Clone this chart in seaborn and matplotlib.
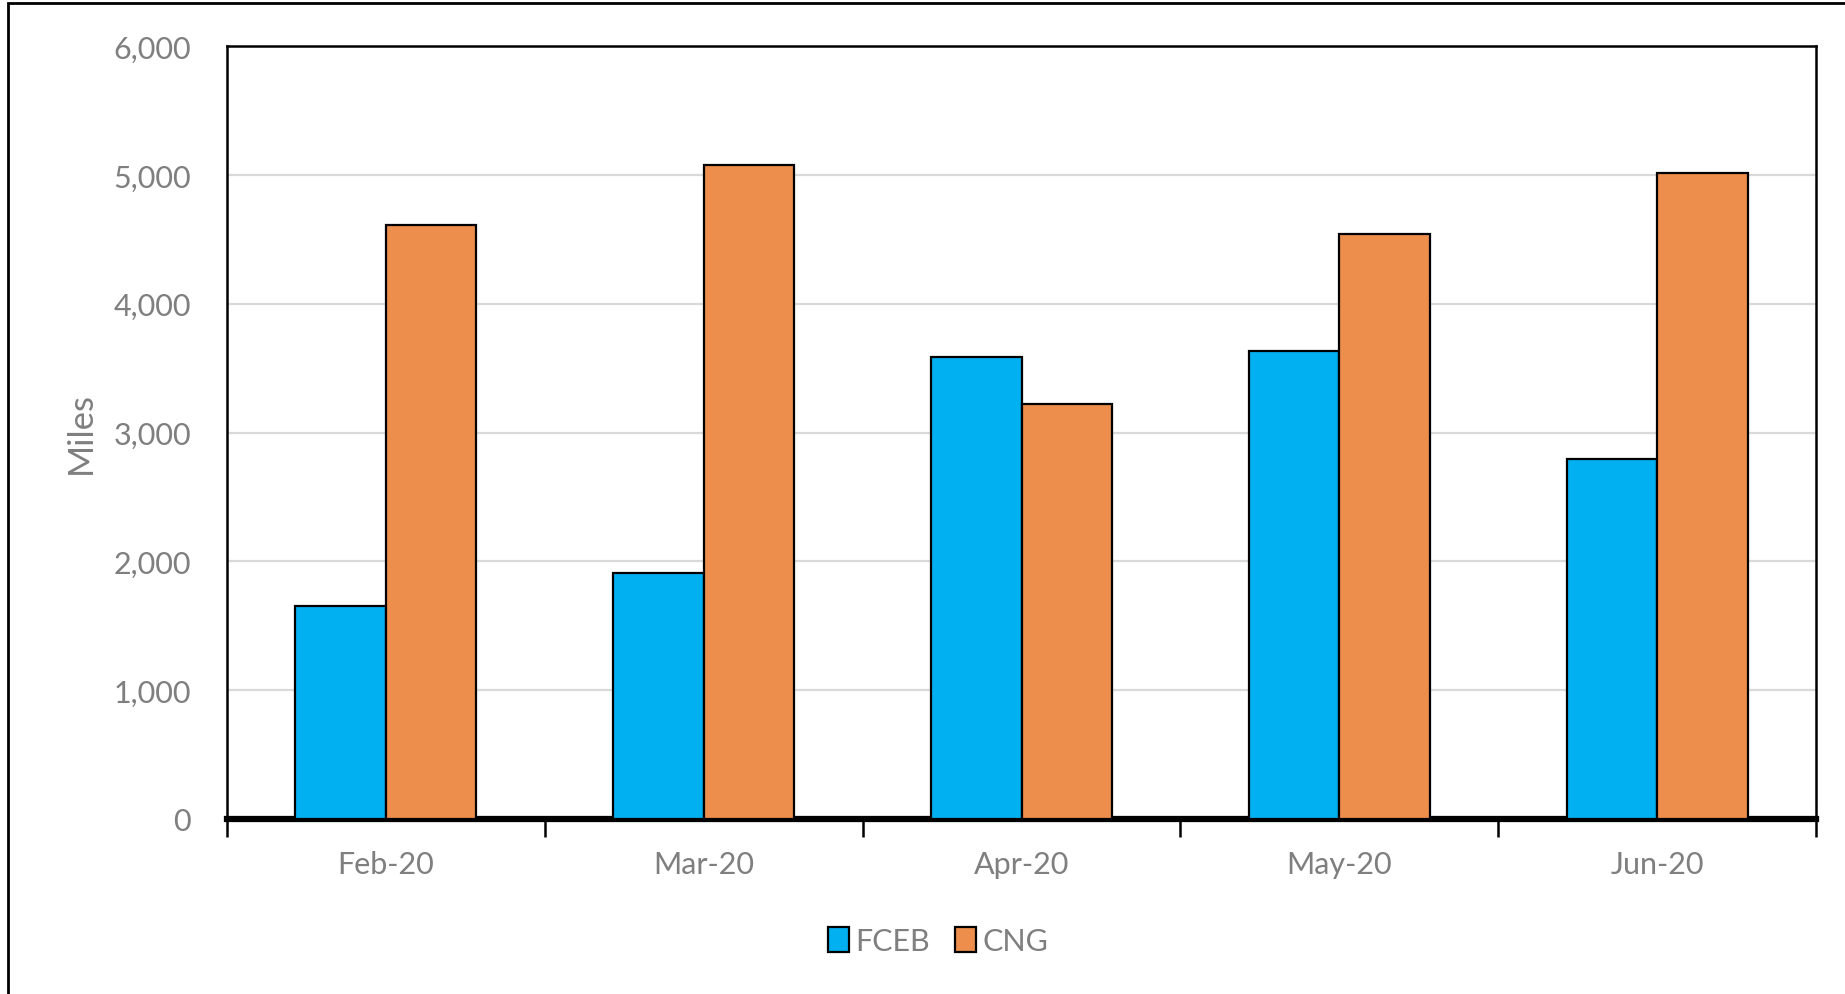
import matplotlib
matplotlib.use("Agg")
import matplotlib.pyplot as plt
from matplotlib.patches import Rectangle
from matplotlib.ticker import FuncFormatter, FixedLocator
import seaborn as sns
import pandas as pd

# ---- data ----
months = ["Feb-20", "Mar-20", "Apr-20", "May-20", "Jun-20"]
fceb = [1653, 1909, 3589, 3635, 2795]
cng = [4612, 5078, 3224, 4539, 5014]
series = ["FCEB", "CNG"]
colors = ["#00B0F0", "#ED8E4C"]

df = pd.DataFrame({
    "Month": months * 2,
    "Miles": fceb + cng,
    "Fuel": ["FCEB"] * len(months) + ["CNG"] * len(months),
})

sns.set_theme(style="white")
plt.rcParams["font.family"] = ["Lato", "DejaVu Sans"]
grey = "#7F7F7F"

fig = plt.figure(figsize=(18.45, 9.95), dpi=100)
ax = fig.add_axes([227 / 1845, 1 - 820 / 995, (1816 - 227) / 1845, (820 - 47) / 995])

sns.barplot(data=df, x="Month", y="Miles", hue="Fuel", hue_order=series,
            palette=colors, width=0.57, edgecolor="black", linewidth=1.6,
            saturation=1, ax=ax, zorder=3)

ax.set_ylim(0, 6000)
ax.set_xlim(-0.5, len(months) - 0.5)
ax.yaxis.set_major_locator(FixedLocator(range(0, 6001, 1000)))
ax.yaxis.set_major_formatter(FuncFormatter(lambda v, p: f"{int(v):,}"))
ax.grid(axis="y", color="#D9D9D9", linewidth=1.6, zorder=0)
ax.set_axisbelow(True)

for s in ["top", "left", "right"]:
    ax.spines[s].set_color("black")
    ax.spines[s].set_linewidth(1.8)
ax.spines["bottom"].set_color("black")
ax.spines["bottom"].set_linewidth(4.5)

ax.tick_params(axis="y", length=0, labelsize=22, labelcolor=grey, pad=26)
ax.tick_params(axis="x", which="major", length=0, labelsize=22, labelcolor=grey, pad=22)
ax.set_xticks([i + 0.5 for i in range(-1, len(months))], minor=True)
ax.tick_params(axis="x", which="minor", bottom=True, length=13, width=1.8,
               color="black", direction="out")

ax.set_xlabel("")
ax.set_ylabel("Miles", fontsize=25, color=grey, labelpad=12)

handles, labels = ax.get_legend_handles_labels()
ax.legend(handles, labels, loc="center", bbox_to_anchor=(938 / 1845, 1 - 942 / 995),
          bbox_transform=fig.transFigure, ncol=2, frameon=False, fontsize=22,
          labelcolor=grey, handlelength=0.7, handleheight=0.9, handletextpad=0.2,
          columnspacing=0.8)

# outer chart border (runs off the right and bottom edges)
fig.patches.append(Rectangle((8 / 1845, -0.05), 1.2, 1 - 4 / 995 + 0.05,
                             transform=fig.transFigure, fill=False,
                             edgecolor="black", linewidth=2))

fig.savefig("out.png", dpi=100)
